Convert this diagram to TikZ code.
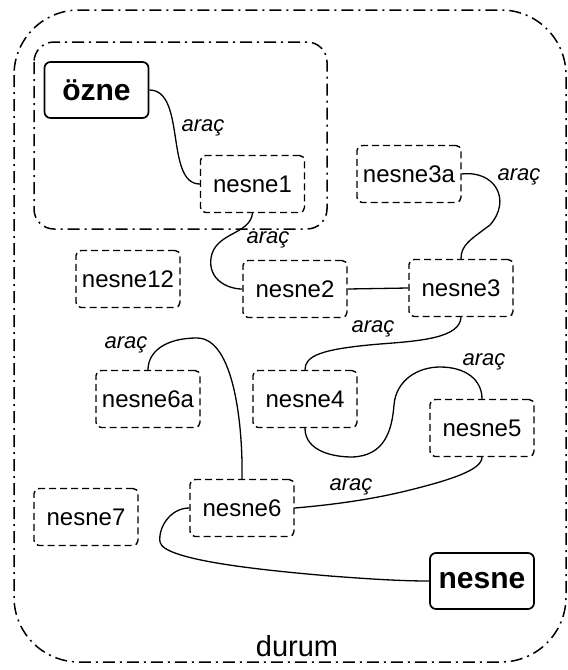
\documentclass[tikz,border=0pt]{standalone}
\usepackage{fontspec}
\setmainfont{Liberation Sans}
\begin{document}
\begin{tikzpicture}[x=1pt,y=-1pt,
  obj/.style={draw, dashed, dash pattern=on 7pt off 4pt, line width=1.4pt, rounded corners=5pt,
    minimum width=104pt, minimum height=57pt, inner sep=0pt, font=\fontsize{24}{27}\selectfont},
  key/.style={draw, line width=1.7pt, rounded corners=6pt,
    minimum width=104pt, minimum height=56pt, inner sep=0pt, font=\fontsize{30}{34}\selectfont\bfseries},
  lbl/.style={inner sep=0pt, font=\fontsize{22}{25}\selectfont\itshape},
  conn/.style={line width=1.3pt},
  group/.style={line width=1.5pt, dash pattern=on 12pt off 5pt on 2pt off 5pt}]
\useasboundingbox (0,0) rectangle (568,670);
\fill[white] (0,0) rectangle (568,670);
% containers
\draw[group, rounded corners=65pt] (14,10) rectangle (566,662);
\draw[group, rounded corners=20pt] (34,42) rectangle (327,229);
% nodes
\node[key] (ozne) at (96.5,90) {özne};
\node[obj] (n1) at (252.5,184) {nesne1};
\node[obj] (n3a) at (409,174) {nesne3a};
\node[obj] (n2) at (295,289) {nesne2};
\node[obj] (n3) at (461,288) {nesne3};
\node[obj] (n12) at (128,279) {nesne12};
\node[obj] (n6a) at (148,399) {nesne6a};
\node[obj] (n4) at (305,399) {nesne4};
\node[obj] (n5) at (482,428) {nesne5};
\node[obj] (n6) at (242,508) {nesne6};
\node[obj] (n7) at (86,517) {nesne7};
\node[key] (nesne) at (482,581) {nesne};
\node[inner sep=0pt, font=\fontsize{29}{32}\selectfont, anchor=base] (durum) at (297,656) {durum};
% connectors
\draw[conn] (ozne.east) .. controls +(37,0) and +(-35,0) .. (n1.west);
\node[lbl] (l1) at (203,128) {araç};
\draw[conn] (n1.south) .. controls (250,235) and (215,232) .. (211,258) .. controls (208,280) and (228,289) .. (n2.west);
\node[lbl] (l2) at (268,240) {araç};
\draw[conn] (n2.east) -- (n3.west);
\draw[conn] (n3a.east) .. controls (495,170) and (512,200) .. (490,225) .. controls (470,240) and (461,245) .. (n3.north);
\node[lbl] (l3) at (519,177) {araç};
\draw[conn] (n3.south) .. controls (460,338) and (420,341) .. (380,344) .. controls (320,349) and (305,356) .. (n4.north);
\node[lbl] (l4) at (373,329) {araç};
\draw[conn] (n4.south) .. controls (305,452) and (335,457) .. (352,457) .. controls (385,456) and (392,430) .. (394,405) .. controls (396,380) and (418,367) .. (440,367) .. controls (466,367) and (482,380) .. (n5.north);
\node[lbl] (l5) at (484,362) {araç};
\draw[conn] (n5.south) .. controls (482,470) and (450,480) .. (410,490) .. controls (370,500) and (330,505) .. (n6.east);
\node[lbl] (l6) at (351,487) {araç};
\draw[conn] (n6.north) .. controls (243,430) and (235,338) .. (197,338) .. controls (165,338) and (148,352) .. (n6a.north);
\node[lbl] (l7) at (126,345) {araç};
\draw[conn] (n6.west) .. controls (170,508) and (158,528) .. (160,542) .. controls (163,560) and (260,570) .. (330,576) .. controls (370,579) and (400,581) .. (nesne.west);
\end{tikzpicture}
\end{document}
